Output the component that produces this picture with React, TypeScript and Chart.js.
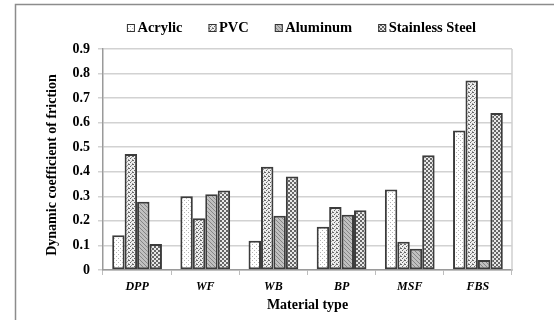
import React, { useEffect, useRef } from "react";
import { Chart, registerables } from "chart.js";

Chart.register(...registerables);

const categories = ["DPP", "WF", "WB", "BP", "MSF", "FBS"];
const seriesNames = ["Acrylic", "PVC", "Aluminum", "Stainless Steel"];
const acrylic = [0.142, 0.3, 0.119, 0.176, 0.328, 0.568];
const pvc = [0.472, 0.211, 0.42, 0.257, 0.115, 0.772];
const aluminum = [0.278, 0.308, 0.221, 0.225, 0.087, 0.041];
const stainless = [0.106, 0.324, 0.381, 0.243, 0.467, 0.639];
const yTicks = [0, 0.1, 0.2, 0.3, 0.4, 0.5, 0.6, 0.7, 0.8, 0.9];
const yTitle = "Dynamic coefficient of friction";
const xTitle = "Material type";

const FONT = "'Liberation Serif', 'Times New Roman', serif";

function makePattern(kind: string): CanvasPattern | string {
  const c = document.createElement("canvas");
  c.width = 4;
  c.height = 4;
  const g = c.getContext("2d")!;
  if (kind === "acr") {
    g.fillStyle = "#ffffff";
    g.fillRect(0, 0, 4, 4);
    g.fillStyle = "#b4b4b4";
    g.fillRect(0, 0, 1, 1);
    g.fillRect(2, 2, 1, 1);
  } else if (kind === "pvc") {
    g.fillStyle = "#eeeeee";
    g.fillRect(0, 0, 4, 4);
    g.fillStyle = "#666666";
    g.fillRect(0, 0, 2, 1);
    g.fillRect(2, 2, 1, 1);
    g.fillStyle = "#999999";
    g.fillRect(3, 1, 1, 1);
    g.fillRect(0, 3, 1, 1);
  } else if (kind === "al") {
    g.fillStyle = "#c0c0c0";
    g.fillRect(0, 0, 4, 4);
    g.fillStyle = "#858585";
    for (let i = 0; i < 4; i++) g.fillRect(i, i, 1, 1);
  } else {
    g.fillStyle = "#e8e8e8";
    g.fillRect(0, 0, 4, 4);
    g.fillStyle = "#666666";
    g.fillRect(0, 0, 2, 2);
    g.fillRect(2, 2, 2, 2);
  }
  const ctx = document.createElement("canvas").getContext("2d")!;
  return ctx.createPattern(c, "repeat") || "#ccc";
}

const framePlugin = {
  id: "frame",
  beforeDraw(chart: any) {
    const ctx = chart.ctx;
    ctx.save();
    ctx.strokeStyle = "#8c8c8c";
    ctx.lineWidth = 1.5;
    ctx.beginPath();
    ctx.moveTo(15.5, 330);
    ctx.lineTo(15.5, 4.5);
    ctx.lineTo(560, 4.5);
    ctx.stroke();
    ctx.restore();
  },
  beforeDatasetsDraw(chart: any) {
    const { ctx, chartArea } = chart;
    ctx.save();
    ctx.strokeStyle = "#cfcfcf";
    ctx.lineWidth = 1.5;
    ctx.beginPath();
    ctx.moveTo(chartArea.right, chartArea.top);
    ctx.lineTo(chartArea.right, chartArea.bottom);
    ctx.stroke();
    ctx.restore();
  },
  afterDraw(chart: any) {
    const { ctx, chartArea } = chart;
    ctx.save();
    ctx.font = "bold 14px " + FONT;
    ctx.fillStyle = "#000";
    ctx.textAlign = "center";
    ctx.textBaseline = "middle";
    ctx.translate(52, 165);
    ctx.rotate(-Math.PI / 2);
    ctx.fillText(yTitle, 0, 0);
    ctx.restore();

    ctx.save();
    ctx.font = "bold 14.5px " + FONT;
    ctx.textBaseline = "middle";
    ctx.textAlign = "left";
    const box = 8;
    const gapBoxText = 2.5;
    const gapItems = 26;
    const items = chart.data.datasets.map((d: any) => ({
      label: d.label,
      fill: d.backgroundColor,
      w: ctx.measureText(d.label).width,
    }));
    const total =
      items.reduce((s: number, it: any) => s + box + gapBoxText + it.w, 0) +
      gapItems * (items.length - 1);
    const cx = (chartArea.left + chartArea.right) / 2 - 6;
    let x = cx - total / 2;
    const y = 28;
    items.forEach((it: any) => {
      ctx.fillStyle = it.fill;
      ctx.fillRect(x, y - box / 2, box, box);
      ctx.strokeStyle = "#333";
      ctx.lineWidth = 1;
      ctx.strokeRect(x + 0.5, y - box / 2 + 0.5, box - 1, box - 1);
      ctx.fillStyle = "#000";
      ctx.fillText(it.label, x + box + gapBoxText, y + 0.5);
      x += box + gapBoxText + it.w + gapItems;
    });
    ctx.restore();
  },
};

export default function App() {
  const ref = useRef<HTMLCanvasElement>(null);
  useEffect(() => {
    const patterns = [makePattern("acr"), makePattern("pvc"), makePattern("al"), makePattern("ss")];
    const seriesData = [acrylic, pvc, aluminum, stainless];
    const chart = new Chart(ref.current!, {
      type: "bar",
      data: {
        labels: categories,
        datasets: seriesNames.map((n, i) => ({
          label: n,
          data: seriesData[i],
          backgroundColor: patterns[i] as any,
          borderColor: "#3c3c3c",
          borderWidth: 2,
          borderSkipped: false,
          barPercentage: 1,
          categoryPercentage: 0.73,
        })),
      },
      options: {
        animation: false,
        responsive: false,
        maintainAspectRatio: false,
        layout: { padding: { left: 40, right: 42, top: 49, bottom: 2 } },
        plugins: {
          tooltip: { enabled: false },
          legend: { display: false },
        },
        scales: {
          x: {
            offset: true,
            grid: {
              offset: true,
              drawOnChartArea: false,
              drawTicks: true,
              tickLength: 5,
              color: "#bdbdbd",
              lineWidth: 1,
            },
            border: { display: true, color: "#9a9a9a", width: 1.5 },
            ticks: {
              color: "#000",
              padding: 5,
              font: { family: FONT, size: 12, weight: "bold", style: "italic" },
            },
            title: {
              display: true,
              text: xTitle,
              color: "#000",
              padding: { top: 2, bottom: 4 },
              font: { family: FONT, size: 14, weight: "bold" },
            },
            afterFit(scale: any) {
              scale.height = 48;
            },
          },
          y: {
            min: 0,
            max: 0.9,
            afterBuildTicks(scale: any) {
              scale.ticks = yTicks.map((v) => ({ value: v }));
            },
            grid: {
              color: "#d2d2d2",
              lineWidth: 1.5,
              tickLength: 5,
            },
            border: { display: true, color: "#9a9a9a", width: 1.5 },
            ticks: {
              color: "#000",
              padding: 8,
              font: { family: FONT, size: 14, weight: "bold" },
              callback: (v: any) => String(Math.round(Number(v) * 10) / 10),
            },
            title: { display: false },
            afterFit(scale: any) {
              scale.width = 63;
            },
          },
        },
      },
      plugins: [framePlugin],
    });
    return () => chart.destroy();
  }, []);
  return (
    <div style={{ position: "fixed", left: 0, top: 0, width: 554, height: 320, background: "#fff" }}>
      <canvas ref={ref} width={554} height={320} style={{ width: 554, height: 320 }} />
    </div>
  );
}
